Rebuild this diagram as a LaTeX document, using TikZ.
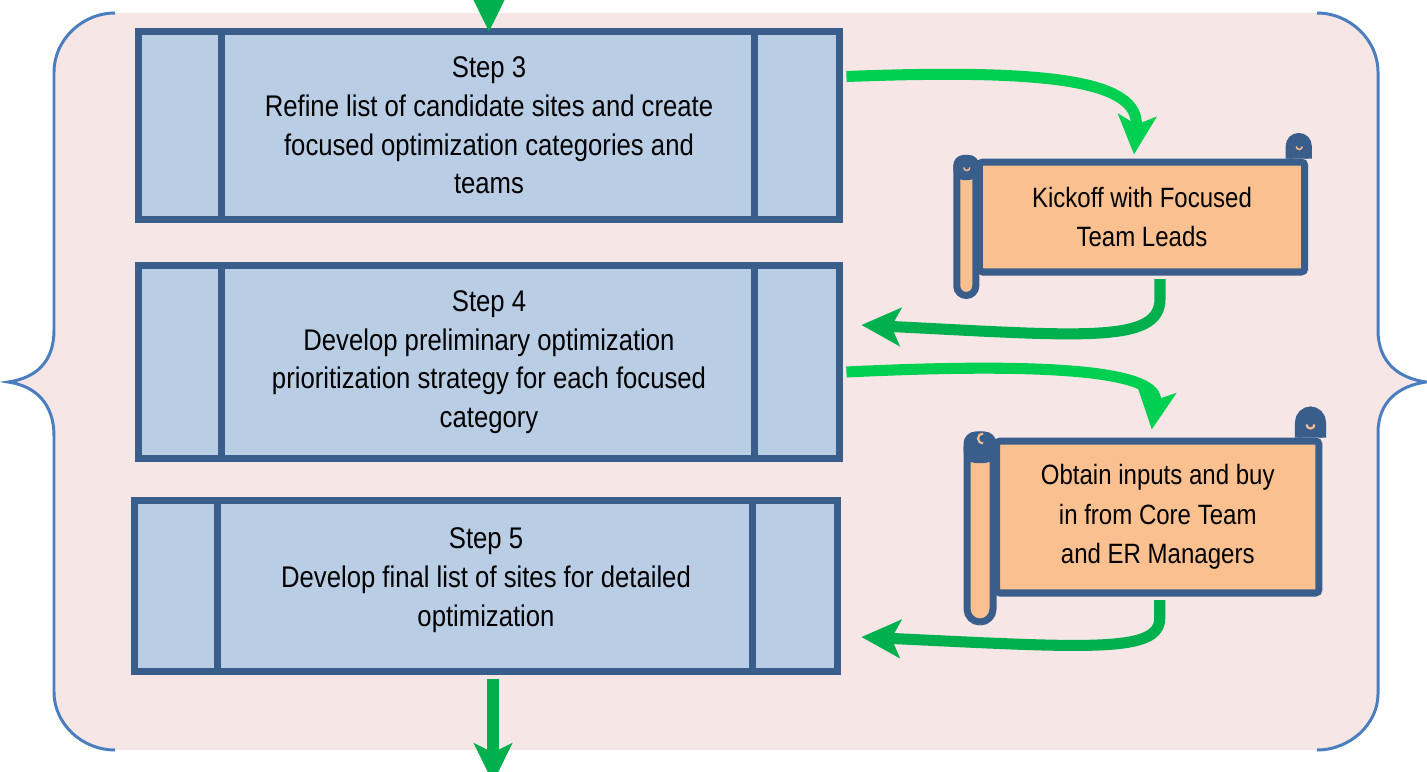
\documentclass[tikz,border=0pt]{standalone}
\usepackage{fontspec}
\setmainfont{Liberation Sans}[FakeStretch=0.86]
\usetikzlibrary{arrows.meta,calc}

\definecolor{bgpink}{HTML}{F6E6E6}
\definecolor{bracecol}{HTML}{4A7EBF}
\definecolor{stepfill}{HTML}{B9CDE5}
\definecolor{edgeblue}{HTML}{3A5E8C}
\definecolor{peach}{HTML}{FAC08F}
\definecolor{litegreen}{HTML}{00D052}
\definecolor{darkgreen}{HTML}{00B04E}

\begin{document}
\begin{tikzpicture}[x=0.02cm, y=-0.02cm]
    \tikzstyle{stepbox}=[draw=edgeblue, fill=stepfill, line width=4pt, inner sep=0pt, align=center, font=\fontsize{17}{22}\selectfont]
    \tikzstyle{scrollbox}=[draw=edgeblue, fill=peach, line width=4pt, inner sep=0pt, align=center, rounded corners=2pt, font=\fontsize{15.9}{22.6}\selectfont]
    \tikzstyle{roll}=[draw=edgeblue, fill=peach, line width=4pt]
    \tikzstyle{rollcap}=[draw=edgeblue, fill=edgeblue, line width=4pt]
    \tikzstyle{flow}=[line width=6.3pt, -{Stealth[length=0.78cm, width=0.76cm, inset=0.18cm]}]

    \useasboundingbox (0,0) rectangle (1427,771);

    % background and braces
    \fill[bgpink] (115,13) .. controls (82,13) and (54,40) .. (54,72) -- (54,330)
        .. controls (54,362) and (36,378) .. (8,382) .. controls (36,386) and (54,404) .. (54,436)
        -- (54,692) .. controls (54,724) and (82,750) .. (115,750) -- (1317,750)
        .. controls (1350,750) and (1378,724) .. (1378,694) -- (1378,433)
        .. controls (1378,402) and (1398,386) .. (1426,382) .. controls (1398,378) and (1378,362) .. (1378,330)
        -- (1378,72) .. controls (1378,40) and (1350,13) .. (1317,13) -- cycle;
    \draw[bracecol, line width=1.7pt] (115,13) .. controls (82,13) and (54,40) .. (54,72) -- (54,330)
        .. controls (54,362) and (36,378) .. (8,382) .. controls (36,386) and (54,404) .. (54,436)
        -- (54,692) .. controls (54,724) and (82,750) .. (115,750);
    \draw[bracecol, line width=1.7pt] (1317,750) .. controls (1350,750) and (1378,724) .. (1378,694) -- (1378,433)
        .. controls (1378,402) and (1398,386) .. (1426,382) .. controls (1398,378) and (1378,362) .. (1378,330)
        -- (1378,72) .. controls (1378,40) and (1350,13) .. (1317,13);

    % steps
    \node[stepbox, minimum width=14.02cm, minimum height=3.76cm] (s3) at (489,125.5)
        {Step 3\\Refine list of candidate sites and create\\focused optimization categories and\\teams};
    \node[stepbox, minimum width=14.02cm, minimum height=3.86cm] (s4) at (489,362)
        {Step 4\\Develop preliminary optimization\\prioritization strategy for each focused\\category};
    \node[stepbox, minimum width=14.06cm, minimum height=3.42cm] (s5) at (486,586)
        {Step 5\\Develop final list of sites for detailed\\optimization\\[-12pt]\mbox{}};

    \foreach \s in {s3, s4, s5}
        \draw[edgeblue, line width=4pt] ($(\s.north west)+(86,0)$) -- ($(\s.south west)+(86,0)$)
                                        ($(\s.north east)+(-88,0)$) -- ($(\s.south east)+(-88,0)$);

    % scrolls
    \node[scrollbox, minimum width=6.51cm, minimum height=2.2cm] (k) at (1142,217)
        {Kickoff with Focused\\Team Leads};
    \draw[roll, rounded corners=5.4pt] ($(k.north west)+(-19,0)$) rectangle ($(k.south west)+(0,20)$);
    \draw[rollcap, rounded corners=4pt] ($(k.north west)+(-19,0)$) rectangle ($(k.north west)+(0,18)$);
    \draw[rollcap, rounded corners=5.4pt] ($(k.north east)+(-19,0)$) -- ++(0,-22) -- ++(19,0) -- ++(0,22);
    \draw[peach, line width=0.8pt] ($(k.north west)+(-12,9)$) arc[start angle=180, end angle=0, radius=3];
    \draw[peach, line width=0.8pt] ($(k.north east)+(-12,-12)$) arc[start angle=180, end angle=0, radius=3];

    \node[scrollbox, minimum width=6.45cm, minimum height=3.04cm] (o) at (1157.75,517)
        {Obtain inputs and buy\\in from Core Team\\and ER Managers};
    \draw[roll, rounded corners=7.4pt] ($(o.north west)+(-26,-2.5)$) rectangle ($(o.south west)+(0,25.5)$);
    \draw[rollcap, rounded corners=5pt] ($(o.north west)+(-26,-2.5)$) rectangle ($(o.north west)+(0,22)$);
    \draw[rollcap, rounded corners=7pt] ($(o.north east)+(-24,0)$) -- ++(0,-27.5) -- ++(24,0) -- ++(0,27.5);
    \draw[peach, line width=1.2pt] ($(o.north west)+(-10,6)$) arc[start angle=90, end angle=270, radius=5];
    \draw[peach, line width=1.2pt] ($(o.north east)+(-16,-13)$) arc[start angle=180, end angle=0, radius=4];

    % flow arrows
    \draw[flow, darkgreen] (489,-30) -- ($(s3.north)+(0,3.5)$);
    \draw[flow, litegreen] ($(s3.north east)+(3.5,48.5)$) .. controls +(207,-8) and +(6,-73) .. ($(k.north)+(-8,-4)$);
    \draw[flow, darkgreen] ($(k.south)+(18,3.5)$) -- ++(0,20) .. controls +(0,45) and +(220,11) .. ($(s4.east)+(18.5,-37)$);
    \draw[flow, litegreen] ($(s4.east)+(3.5,10)$) .. controls +(207,-10) and +(8,-58) .. ($(o.north)+(-6,-8)$);
    \draw[flow, darkgreen] ($(o.south)+(2,3.5)$) -- ++(0,18) .. controls +(0,35) and +(230,11) .. ($(s5.east)+(20.5,51)$);
    \draw[flow, darkgreen, line width=6.8pt] ($(s5.south)+(7,3.5)$) -- ++(0,104);
\end{tikzpicture}
\end{document}
